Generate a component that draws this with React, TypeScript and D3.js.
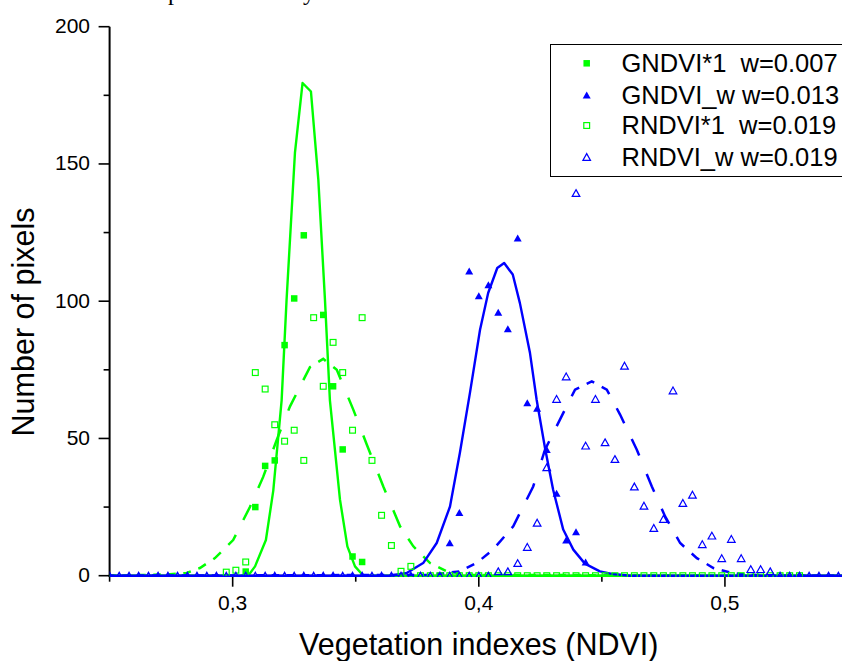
import React from 'react';
import * as d3 from 'd3';

// ---------- data ----------
const ndviBins = [
  0.2500, 0.2539, 0.2579, 0.2618, 0.2658, 0.2697, 0.2737, 0.2776, 0.2816, 0.2855,
  0.2895, 0.2934, 0.2974, 0.3013, 0.3053, 0.3092, 0.3132, 0.3171, 0.3211, 0.3250,
  0.3289, 0.3329, 0.3368, 0.3408, 0.3447, 0.3487, 0.3526, 0.3566, 0.3605, 0.3645,
  0.3684, 0.3724, 0.3763, 0.3803, 0.3842, 0.3882, 0.3921, 0.3961, 0.4000, 0.4039,
  0.4079, 0.4118, 0.4158, 0.4197, 0.4237, 0.4276, 0.4316, 0.4355, 0.4395, 0.4434,
  0.4474, 0.4513, 0.4553, 0.4592, 0.4632, 0.4671, 0.4711, 0.4750, 0.4789, 0.4829,
  0.4868, 0.4908, 0.4947, 0.4987, 0.5026, 0.5066, 0.5105, 0.5145, 0.5184, 0.5224,
  0.5263, 0.5303, 0.5342, 0.5382, 0.5421, 0.5461, 0.5500,
];

// GNDVI*1 (filled green squares), starting at bin 14
const gndvi1Start = 14;
const gndvi1Counts = [1.5, 25, 40, 42, 84, 101, 124, null, 95, 69, 46, 7, 5];

// GNDVI_w (filled blue triangles), starting at bin 35
const gndviWStart = 35;
const gndviWCounts = [12, 23, 111, 102, 106, 96, 90, 123, 63, 61, 46, 30, 13, 16, 5];

// RNDVI*1 (open green squares), starting at bin 12
const rndvi1Start = 12;
const rndvi1Counts = [
  1.3, 2, 5, 74, 68, 55, 49, 53, 42, 94, 69, 85, 74, 53, 94, 42, 22, 11, 1.6, 3.4,
  0, 0, 0, 0, 0, 0, 0, 0, 0, 0, 0, 0, 0, 0, 0, 0, 0, 0, 0, 0, 0, 0, 0, 0, 0,
  0, 0, 0, 0, 0, 0, 0, 0, 0, 0, 0, 0, 0, 0, 0,
];

// RNDVI_w (open blue triangles), starting at bin 0
const rndviWStart = 0;
const rndviWCounts = [
  0, 0, 0, 0, 0, 0, 0, 0, 0, 0, 0, 0, 0, 0, 0, 0, 0, 0, 0, 0,
  0, 0, 0, 0, 0, 0, 0, 0, 0, 0, 0, 0, 0, 0, 0, 0, 0, 0, 0, 0,
  1.6, 1.6, 4.6, 10.5, 19.3, 39.5, 64.4, 72.6, 139.4, 47.4,
  64.4, 48.6, 42.5, 76.5, 32.5, 25.5, 17.4, 20.7, 67.5, 26.5,
  29.5, 11.5, 14.6, 6.4, 13.4, 6.4, 2.4, 2.4, 1.6, 0,
  0, 0, 0, 0, 0, 0, 0,
];

// Gaussian fit curves
const gndvi1FitX = [0.25, 0.3063, 0.3091, 0.3135, 0.3165, 0.3199, 0.3219, 0.3253, 0.3284, 0.3318, 0.3348, 0.3375, 0.3395, 0.3436, 0.3466, 0.3497, 0.3531, 0.55];
const gndvi1FitY = [0, 0, 3.4, 13, 31, 64, 100.5, 154, 179.5, 176.4, 144.3, 100.5, 64, 27.7, 10.7, 3.4, 0, 0];

const rndvi1FitX = [0.25, 0.2745, 0.2813, 0.2867, 0.2928, 0.3002, 0.3070, 0.3124, 0.3179, 0.3233, 0.3314, 0.3368, 0.3423, 0.3490, 0.3544, 0.3612, 0.3680, 0.3734, 0.3802, 0.3869, 0.3964, 0.55];
const rndvi1FitY = [0, 0.5, 1, 2.8, 6.4, 13, 25, 36, 49.5, 61.7, 76, 79, 75, 60.5, 48, 32.5, 18, 10.7, 4.6, 1.6, 0.3, 0];

const gndviWFitX = [0.25, 0.3639, 0.3707, 0.3774, 0.3829, 0.3883, 0.3923, 0.3964, 0.4005, 0.4038, 0.4075, 0.4103, 0.4138, 0.4167, 0.4208, 0.4235, 0.4269, 0.4302, 0.4343, 0.4384, 0.4431, 0.4492, 0.4546, 0.4614, 0.55];
const gndviWFitY = [0, 0, 1, 4.6, 11.9, 25.2, 44.7, 66.6, 89.6, 103, 112.1, 113.9, 109.7, 99.3, 81.1, 64.1, 46.5, 31.3, 16.8, 9.5, 4.4, 1.6, 0.6, 0, 0];

const rndviWFitX = [0.25, 0.3802, 0.3869, 0.3923, 0.3991, 0.4058, 0.4140, 0.4221, 0.4269, 0.4316, 0.4391, 0.4459, 0.4520, 0.4574, 0.4642, 0.4703, 0.4757, 0.4818, 0.4886, 0.4953, 0.5021, 0.5062, 0.5184, 0.55];
const rndviWFitY = [0, 0.3, 1, 1.6, 4.6, 9.5, 18, 32.5, 45.9, 54.4, 67.8, 70.8, 67.8, 58.7, 45.9, 32.5, 21.6, 11.9, 6.4, 2.8, 1.2, 0.6, 0, 0];

const xMajorTicks = [0.3, 0.4, 0.5];
const xMinorTicks = [0.25, 0.35, 0.45, 0.55];
const yMajorTicks = [0, 50, 100, 150, 200];
const yMinorTicks = [25, 75, 125, 175];

const legendLabels = ['GNDVI*1  w=0.007', 'GNDVI_w w=0.013', 'RNDVI*1  w=0.019', 'RNDVI_w w=0.019'];

// ---------- layout ----------
const W = 842;
const H = 661;
const GREEN = '#00FF00';
const BLUE = '#0000FF';
const FONT = '"Liberation Sans", Arial, Helvetica, sans-serif';

const x = d3.scaleLinear().domain([0.25, 0.55]).range([109.6, 848]);
const y = d3.scaleLinear().domain([0, 200]).range([575.7, 26.7]);

type Marker = 'fsq' | 'osq' | 'ftri' | 'otri';

function MarkerShape({ kind, cx, cy }: { kind: Marker; cx: number; cy: number }) {
  if (kind === 'fsq') {
    const s = 6.5;
    return <rect x={cx - s / 2} y={cy - s / 2} width={s} height={s} fill={GREEN} />;
  }
  if (kind === 'osq') {
    const s = 5.8;
    return <rect x={cx - s / 2} y={cy - s / 2} width={s} height={s} fill="none" stroke={GREEN} strokeWidth={1.2} />;
  }
  if (kind === 'ftri') {
    const w = 8, h = 7;
    return <path d={`M${cx},${cy - h / 2}L${cx + w / 2},${cy + h / 2}L${cx - w / 2},${cy + h / 2}Z`} fill={BLUE} />;
  }
  const w = 7.6, h = 6.8;
  return <path d={`M${cx},${cy - h / 2}L${cx + w / 2},${cy + h / 2}L${cx - w / 2},${cy + h / 2}Z`} fill="none" stroke={BLUE} strokeWidth={1.2} strokeLinejoin="miter" />;
}

function points(start: number, counts: (number | null)[]) {
  const out: [number, number][] = [];
  counts.forEach((c, i) => {
    if (c !== null && c !== undefined) out.push([ndviBins[start + i], c]);
  });
  return out;
}

// dashes laid out along x: a dash every `period` px, each `dashLen` px wide in x
function dashPaths(xs: number[], ys: number[], phase: number, period = 15, dashLen = 7.5) {
  const px = xs.map((v) => x(v));
  const py = ys.map((v) => y(v));
  const f = d3.scaleLinear().domain(px).range(py).clamp(true);
  const x0 = x.range()[0];
  const x1 = x.range()[1];
  let a = phase - Math.ceil((phase - x0) / period) * period;
  const line = d3.line();
  const out: string[] = [];
  for (; a < x1; a += period) {
    const b = Math.min(a + dashLen, x1);
    const aa = Math.max(a, x0);
    if (b <= aa) continue;
    const pts: [number, number][] = [[aa, f(aa)]];
    px.forEach((p, i) => {
      if (p > aa && p < b) pts.push([p, py[i]]);
    });
    pts.push([b, f(b)]);
    out.push(line(pts) as string);
  }
  return out;
}

export default function App() {
  const solidLine = d3
    .line<[number, number]>()
    .x((d) => x(d[0]))
    .y((d) => y(d[1]));

  const g1Fit = d3.zip(gndvi1FitX, gndvi1FitY) as [number, number][];
  const gwFit = d3.zip(gndviWFitX, gndviWFitY) as [number, number][];
  const r1Dashes = dashPaths(rndvi1FitX, rndvi1FitY, 303.3);
  const rwDashes = dashPaths(rndviWFitX, rndviWFitY, 601.7);

  const g1Pts = points(gndvi1Start, gndvi1Counts);
  const gwPts = points(gndviWStart, gndviWCounts);
  const r1Pts = points(rndvi1Start, rndvi1Counts);
  const rwPts = points(rndviWStart, rndviWCounts);

  const fmtX = (v: number) => d3.format('.1f')(v).replace('.', ',');

  const legendRows: { kind: Marker; label: string; cy: number }[] = [
    { kind: 'fsq', label: legendLabels[0], cy: 63.3 },
    { kind: 'ftri', label: legendLabels[1], cy: 95 },
    { kind: 'osq', label: legendLabels[2], cy: 125.5 },
    { kind: 'otri', label: legendLabels[3], cy: 157 },
  ];

  const [xl, xr] = x.range();
  const [yb, yt] = y.range();

  return (
    <svg
      width={W}
      height={H}
      viewBox={`0 0 ${W} ${H}`}
      style={{ position: 'absolute', left: 0, top: 0, display: 'block', background: '#fff' }}
      fontFamily={FONT}
    >
      <defs>
        <clipPath id="plotClip">
          <rect x={xl} y={0} width={xr - xl + 2} height={yb + 1.2} />
        </clipPath>
      </defs>

      {/* caption fragment at the very top (cut off in the original too) */}
      <text x={168} y={0} fontFamily='"Liberation Serif", "Times New Roman", serif' fontSize={24} fill="#000">p</text>
      <text x={303} y={0} fontFamily='"Liberation Serif", "Times New Roman", serif' fontSize={24} fill="#000">y</text>

      {/* axes */}
      <g stroke="#000" fill="none">
        <line x1={xl} y1={yt} x2={xl} y2={yb + 1} strokeWidth={2} />
        <line x1={xl - 1} y1={yb} x2={xr} y2={yb} strokeWidth={2} />
        {yMajorTicks.map((t) => (
          <line key={'ym' + t} x1={xl - 11} x2={xl} y1={y(t)} y2={y(t)} strokeWidth={1.6} />
        ))}
        {yMinorTicks.map((t) => (
          <line key={'yn' + t} x1={xl - 6} x2={xl} y1={y(t)} y2={y(t)} strokeWidth={1.6} />
        ))}
        {xMajorTicks.map((t) => (
          <line key={'xm' + t} x1={x(t)} x2={x(t)} y1={yb} y2={yb + 11} strokeWidth={1.6} />
        ))}
        {xMinorTicks.map((t) => (
          <line key={'xn' + t} x1={x(t)} x2={x(t)} y1={yb} y2={yb + 6} strokeWidth={1.6} />
        ))}
      </g>
      <g fontSize={21} fill="#000">
        {yMajorTicks.map((t) => (
          <text key={'yl' + t} x={90} y={y(t)} dy="0.3em" textAnchor="end">
            {t}
          </text>
        ))}
        {xMajorTicks.map((t) => (
          <text key={'xl' + t} x={x(t)} y={610} textAnchor="middle">
            {fmtX(t)}
          </text>
        ))}
      </g>

      {/* axis titles */}
      <text x={x(0.4)} y={655} textAnchor="middle" fontSize={30.5} fill="#000">
        Vegetation indexes (NDVI)
      </text>
      <text transform="translate(34,322) rotate(-90)" textAnchor="middle" fontSize={30.5} fill="#000">
        Number of pixels
      </text>

      {/* data */}
      <g clipPath="url(#plotClip)">
        <path d={solidLine(g1Fit) as string} fill="none" stroke={GREEN} strokeWidth={2.4} strokeLinejoin="round" />
        <g stroke={GREEN} strokeWidth={2.5} fill="none">
          {r1Dashes.map((d, i) => (
            <path key={'r1d' + i} d={d} />
          ))}
        </g>
        <g stroke={BLUE} strokeWidth={2.5} fill="none">
          {rwDashes.map((d, i) => (
            <path key={'rwd' + i} d={d} />
          ))}
        </g>
        <path d={solidLine(gwFit) as string} fill="none" stroke={BLUE} strokeWidth={2.4} strokeLinejoin="round" />

        {r1Pts.map((p, i) => (
          <MarkerShape key={'r1' + i} kind="osq" cx={x(p[0])} cy={y(p[1])} />
        ))}
        {g1Pts.map((p, i) => (
          <MarkerShape key={'g1' + i} kind="fsq" cx={x(p[0])} cy={y(p[1])} />
        ))}
        {rwPts.map((p, i) => (
          <MarkerShape key={'rw' + i} kind="otri" cx={x(p[0])} cy={y(p[1])} />
        ))}
        {gwPts.map((p, i) => (
          <MarkerShape key={'gw' + i} kind="ftri" cx={x(p[0])} cy={y(p[1])} />
        ))}
      </g>

      {/* legend */}
      <rect x={550.5} y={44.5} width={320} height={132} fill="#fff" stroke="#000" strokeWidth={1} />
      {legendRows.map((r) => (
        <g key={r.label}>
          <MarkerShape kind={r.kind} cx={586.7} cy={r.cy} />
          <text x={621.5} y={r.cy + 8.8} fontSize={25.5} fill="#000" style={{ whiteSpace: 'pre' }}>
            {r.label}
          </text>
        </g>
      ))}
    </svg>
  );
}
